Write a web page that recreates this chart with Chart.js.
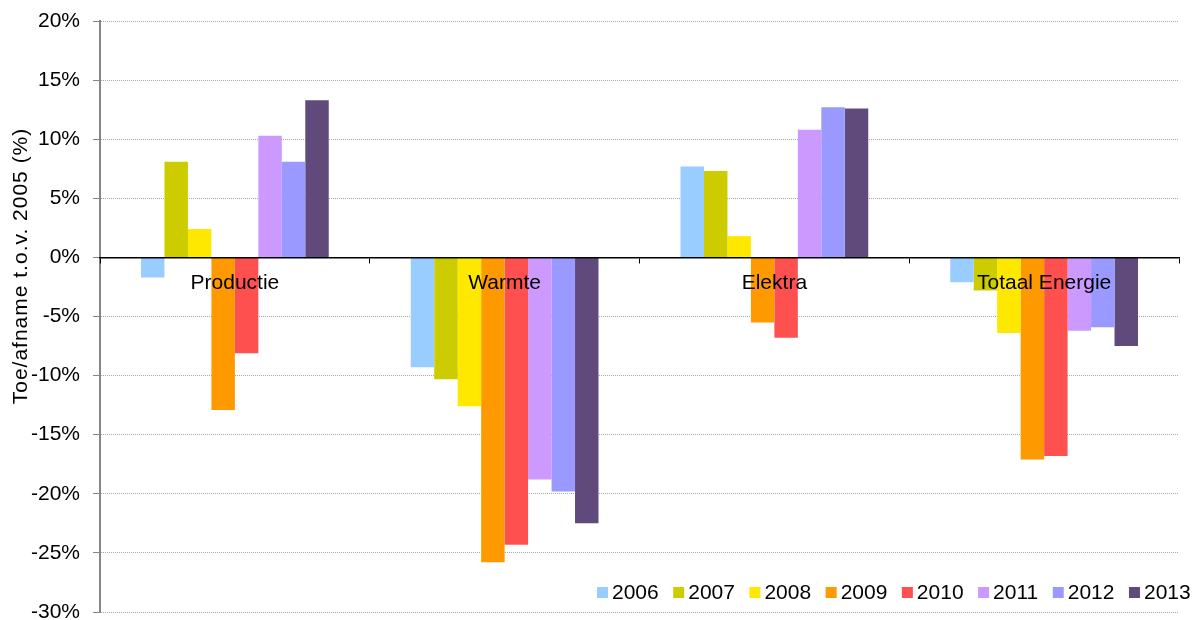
<!DOCTYPE html>
<html>
<head>
<meta charset="utf-8">
<title>Toe/afname t.o.v. 2005</title>
<script src="https://cdn.jsdelivr.net/npm/chart.js@4"></script>
<style>
    html, body { margin: 0; padding: 0; background: #fff; }
    #wrap { width: 1195px; height: 620px; }
</style>
</head>
<body>
<div id="wrap"><canvas id="energyChart" width="1195" height="620"></canvas></div>
<script>
// Categories and per-year values (% change versus 2005)
const categories = ['Productie', 'Warmte', 'Elektra', 'Totaal Energie'];
const years = ['2006', '2007', '2008', '2009', '2010', '2011', '2012', '2013'];

const values2006 = [-1.7, -9.3, 7.7, -2.1];
const values2007 = [8.1, -10.3, 7.3, -2.8];
const values2008 = [2.4, -12.6, 1.8, -6.4];
const values2009 = [-12.9, -25.8, -5.5, -17.1];
const values2010 = [-8.1, -24.3, -6.8, -16.8];
const values2011 = [10.3, -18.8, 10.8, -6.2];
const values2012 = [8.1, -19.8, 12.7, -5.9];
const values2013 = [13.3, -22.5, 12.6, -7.5];

const yTicks = [-30, -25, -20, -15, -10, -5, 0, 5, 10, 15, 20];
const yTitle = 'Toe/afname t.o.v. 2005 (%)';

const seriesValues = [values2006, values2007, values2008, values2009, values2010, values2011, values2012, values2013];
const colors = ['#99CCFF', '#CCCC00', '#FFE800', '#FF9900', '#FF5050', '#CC99FF', '#9999FF', '#604A7B'];

const FONT = "'Liberation Sans', Arial, sans-serif";

// Draws the y title and the legend (sits inside the plot, bottom right)
const extrasPlugin = {
    id: 'extras',
    afterDraw(chart) {
        const ctx = chart.ctx;
        ctx.save();
        ctx.fillStyle = '#000';
        ctx.font = '21px ' + FONT;

        // rotated axis title
        ctx.save();
        ctx.translate(21, 266);
        ctx.rotate(-Math.PI / 2);
        ctx.textAlign = 'center';
        ctx.textBaseline = 'middle';
        ctx.letterSpacing = '1px';
        ctx.fillText(yTitle, 0, 0);
        ctx.restore();

        // legend
        ctx.textAlign = 'left';
        ctx.textBaseline = 'middle';
        let x = 597;
        chart.data.datasets.forEach(ds => {
            ctx.fillStyle = ds.backgroundColor;
            ctx.fillRect(x, 587, 11, 11);
            ctx.fillStyle = '#000';
            ctx.fillText(ds.label, x + 15, 593);
            x += 15 + ctx.measureText(ds.label).width + 14.5;
        });
        ctx.restore();
    }
};

const ctx = document.getElementById('energyChart').getContext('2d');

new Chart(ctx, {
    type: 'bar',
    data: {
        labels: categories,
        datasets: years.map((year, i) => ({
            label: year,
            data: seriesValues[i],
            backgroundColor: colors[i],
            borderWidth: 0,
            categoryPercentage: 0.696,
            barPercentage: 1.0
        }))
    },
    options: {
        responsive: false,
        animation: false,
        layout: {
            padding: { top: 21, right: 16, bottom: 8, left: 0 }
        },
        plugins: {
            legend: { display: false },
            tooltip: { enabled: false }
        },
        scales: {
            x: {
                position: { y: 0 },
                grid: {
                    offset: true,
                    drawOnChartArea: false,
                    tickLength: 5,
                    tickColor: '#000',
                    z: 1
                },
                border: { color: '#000', width: 1.5, z: 1 },
                ticks: {
                    z: 1,
                    color: '#000',
                    padding: 8,
                    maxRotation: 0,
                    font: { size: 21, family: FONT }
                }
            },
            y: {
                min: yTicks[0],
                max: yTicks[yTicks.length - 1],
                afterBuildTicks: scale => {
                    scale.ticks = yTicks.map(v => ({ value: v }));
                },
                afterFit: scale => {
                    scale.width = 100;
                    scale.paddingTop = 0;
                    scale.paddingBottom = 0;
                },
                ticks: {
                    color: '#000',
                    padding: 13,
                    font: { size: 21, family: FONT },
                    callback: value => value + '%'
                },
                grid: {
                    color: '#a6a6a6',
                    lineWidth: 1,
                    tickLength: 7,
                    tickColor: '#868686'
                },
                border: { color: '#868686', width: 2, dash: [1, 1] }
            }
        }
    },
    plugins: [extrasPlugin]
});
</script>
</body>
</html>
